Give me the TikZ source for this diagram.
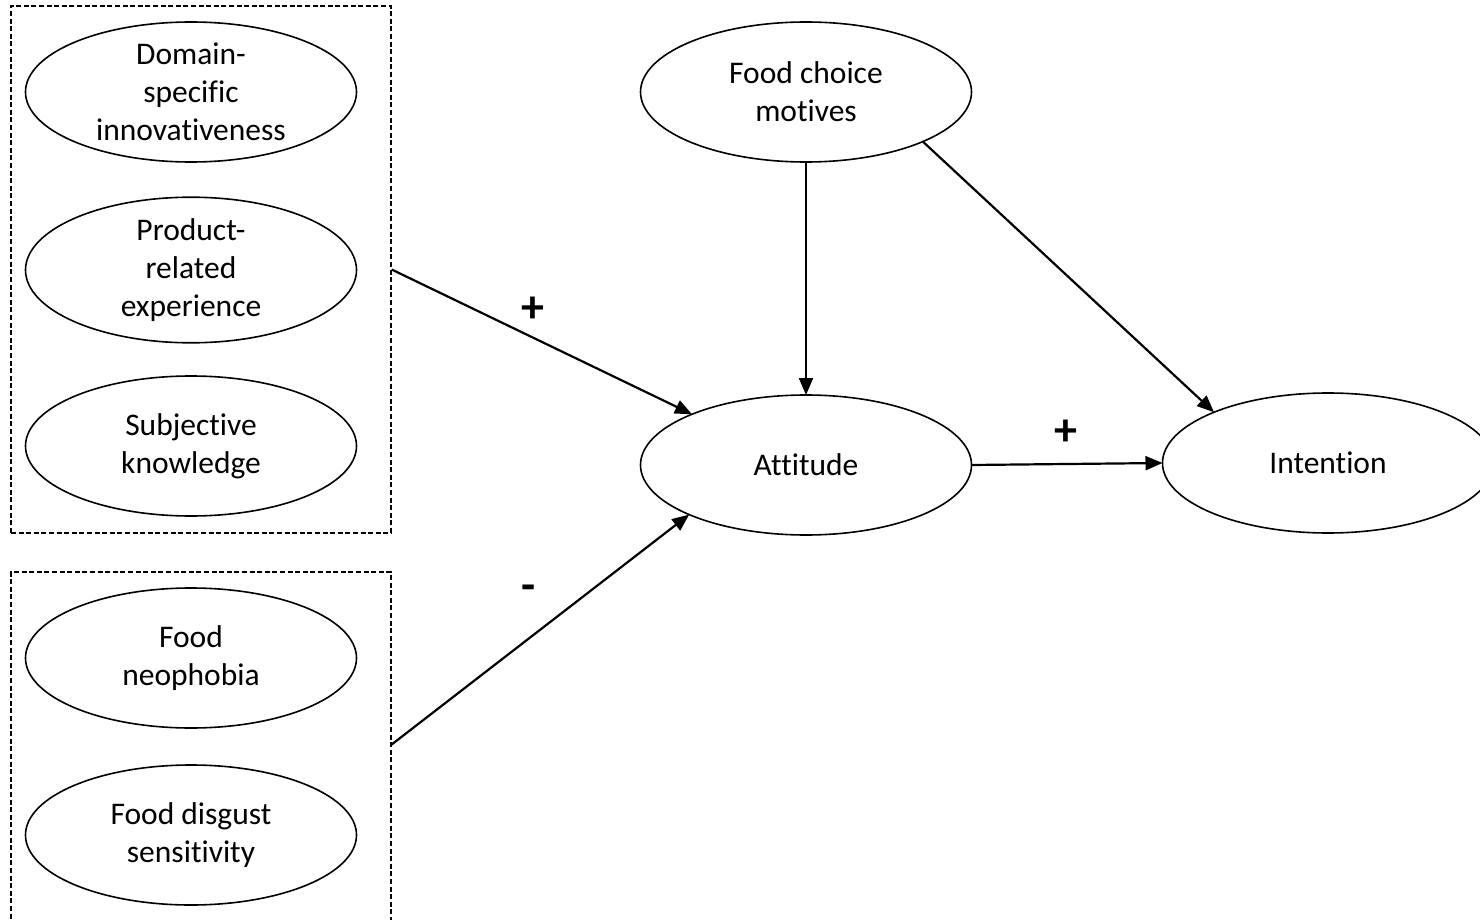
\documentclass[tikz,border=0pt]{standalone}
\usepackage{fontspec}
\setmainfont{Carlito}[Ligatures={NoCommon}]
\usetikzlibrary{shapes.geometric,arrows.meta}
\begin{document}
\begin{tikzpicture}[x=1pt,y=-1pt,
  oval/.style={ellipse,draw,line width=1.6pt,minimum width=331pt,minimum height=140pt,inner sep=0pt,outer sep=0pt,align=center,font=\fontsize{31.5}{38}\selectfont},
  dbox/.style={draw,line width=1.3pt,dash pattern=on 5pt off 2.6pt,inner sep=0pt},
  arr/.style={line width=2.2pt,-{Triangle[length=17pt,width=14pt]}},
  lbl/.style={inner sep=0pt,font=\fontsize{46}{50}\selectfont\bfseries}]
\path[use as bounding box,clip] (0,0) rectangle (1480,920);
% grouping boxes
\node[dbox,minimum width=380pt,minimum height=527pt] (box1) at (201,269.5) {};
\node[dbox,minimum width=380pt,minimum height=388pt] (box2) at (201,766) {};
\coordinate (b2out) at (391,745);
% constructs
\node[oval] (dsi) at (191,92) {Domain-\\specific\\innovativeness};
\node[oval] (pre) at (191,270) {Product-\\related\\experience};
\node[oval] (sk) at (191,446) {Subjective\\knowledge};
\node[oval] (fn) at (191,658) {Food\\neophobia};
\node[oval] (fds) at (191,835) {Food disgust\\sensitivity};
\node[oval] (fcm) at (806,92) {Food choice\\motives};
\node[oval] (att) at (806,465) {Attitude};
\node[oval] (int) at (1328,463) {Intention};
% connectors
\draw[arr] (box1.east) -- (att.156);
\draw[arr] (b2out) -- (att.203);
\draw[arr] (fcm.south) -- (att.north);
\draw[arr] (fcm.-23) -- (int.156);
\draw[arr] (att.east) -- (int.west);
% labels
\node[lbl] (l1) at (533,310) {+};
\node[lbl] (l2) at (528.5,593) {-};
\node[lbl] (l3) at (1066,433) {+};
\end{tikzpicture}
\end{document}
